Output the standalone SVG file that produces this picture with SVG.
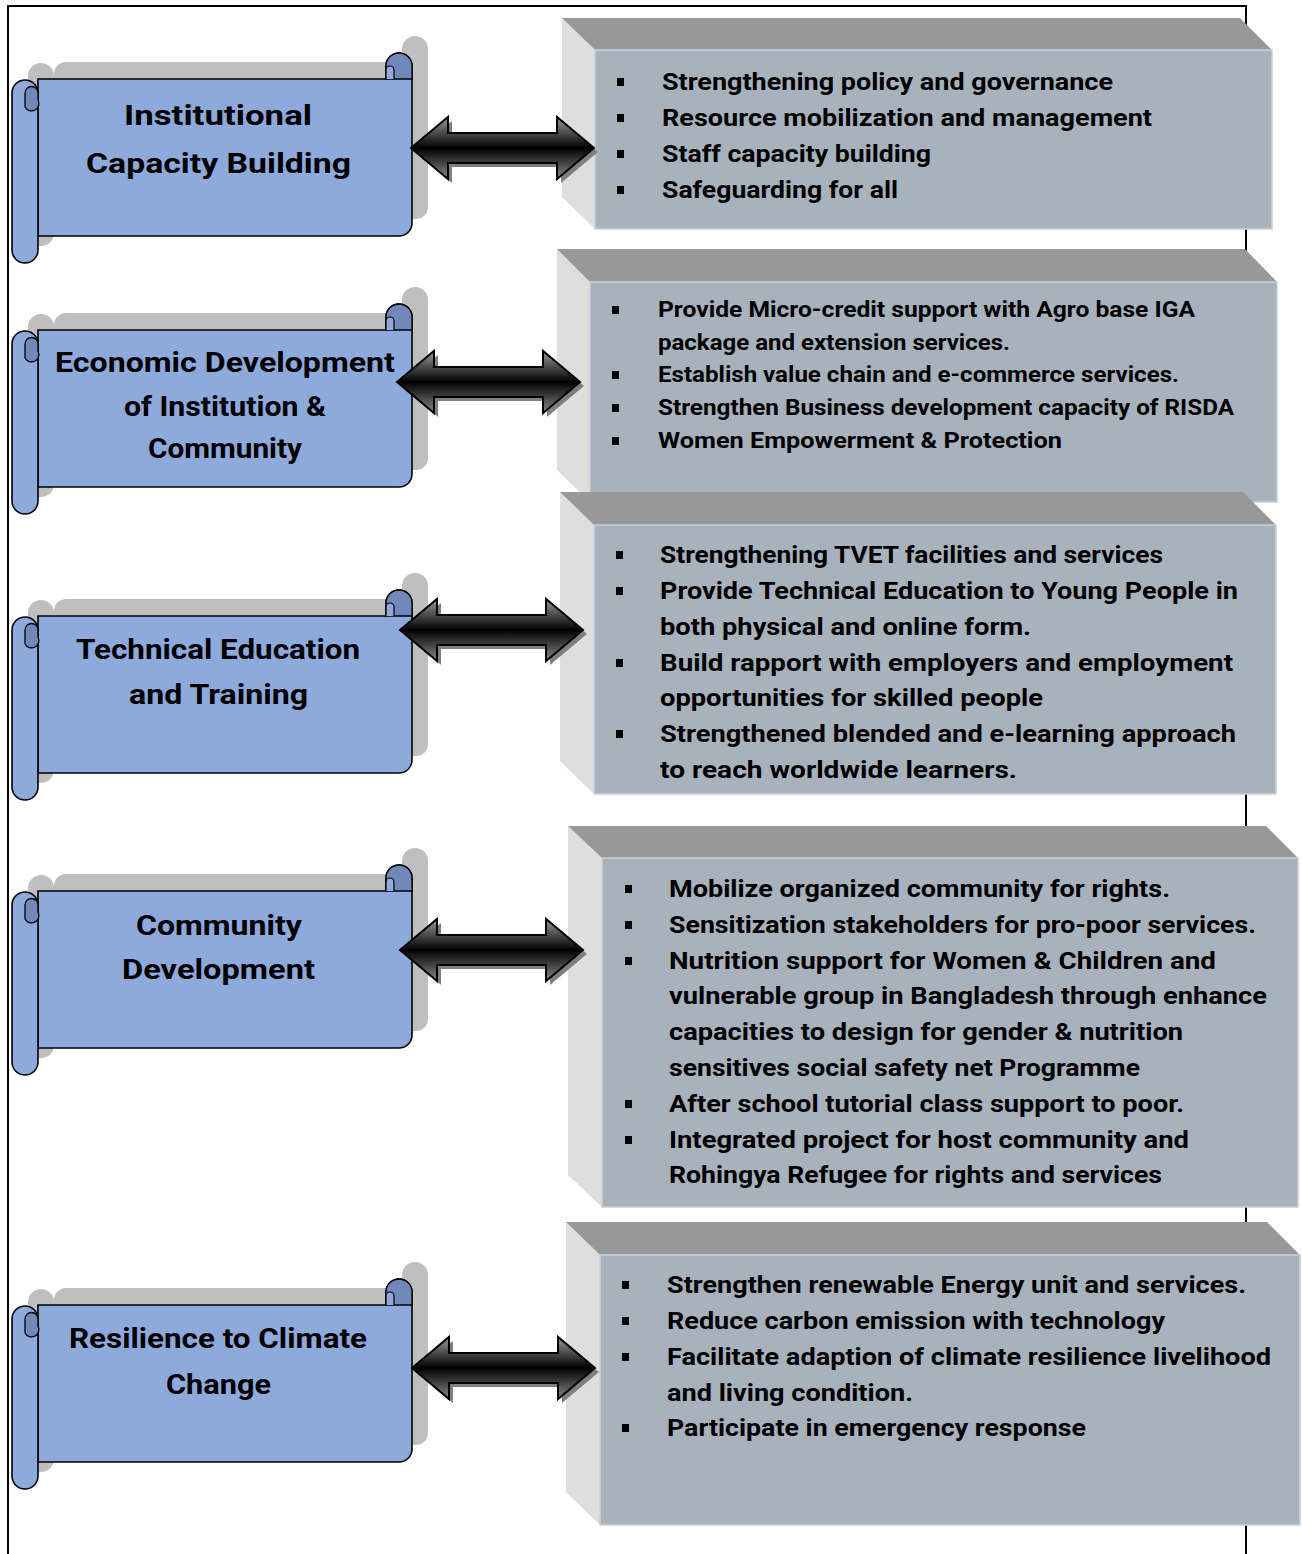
<svg xmlns="http://www.w3.org/2000/svg" xmlns:xlink="http://www.w3.org/1999/xlink" width="1302" height="1554" viewBox="0 0 1302 1554">
<style>
.t{font-family:Roboto,"Open Sans","Liberation Sans",sans-serif;font-weight:700;fill:#000}
.st{font-size:28px;text-anchor:middle}
.bt{font-size:24px}
.bt2{font-size:22px}
.scr{fill:#8EA9DB;stroke:#000;stroke-width:1.6}
.curl{fill:#7189BA;stroke:#000;stroke-width:1.3}
.shd{fill:#BFBFBF}
.front{fill:#A8B2BC;stroke:#C6D0DA;stroke-width:1.5}
.top{fill:#989898}
.side{fill:#DEDEDE}
.arr{fill:url(#ag);stroke:#000;stroke-width:2}
.arrs{fill:#7F7F7F}
.bul{fill:#000}
</style>
<defs>
<linearGradient id="ag" x1="0" y1="0" x2="0" y2="1">
<stop offset="0" stop-color="#9A9A9A"/>
<stop offset="0.5" stop-color="#000"/>
<stop offset="1" stop-color="#8A8A8A"/>
</linearGradient>
<g id="scroll">
<g class="shd" transform="translate(16,-17)">
<rect x="38" y="79" width="374" height="157" rx="12"/>
<rect x="12" y="80" width="26" height="183" rx="13"/>
<rect x="386" y="53" width="26" height="60" rx="13"/>
</g>
<path class="scr" d="M38,79 H386 V66 A13,13 0 0 1 412,66 V223 A13,13 0 0 1 399,236 H38 Z"/>
<path class="curl" d="M386,66 A13,13 0 0 1 412,66 V79 H386 Z"/>
<path fill="#8EA9DB" stroke="#000" stroke-width="1.2" d="M386,79 V70 A4,4 0 0 1 394,70 V79"/>
<rect x="12" y="80" width="26" height="183" rx="13" class="scr"/>
<path class="curl" d="M25,107 V93 A6.5,6.5 0 0 1 38,93 V100 A6.5,6.5 0 0 1 25,107 Z"/>
</g>
<path id="arrow" d="M0,0 L37,-31 L37,-15 L146,-15 L146,-31 L183,0 L146,31 L146,15 L37,15 L37,31 Z"/>
</defs>
<rect width="1302" height="1554" fill="#fff"/>
<g id="page-border" fill="none" stroke="#000" stroke-width="2">
<path d="M8,1554 V6 H1246 V1554"/>
</g>

<g id="node-institutional">
<use xlink:href="#scroll"/>
<text class="t st" x="218" y="125" textLength="188" lengthAdjust="spacingAndGlyphs">Institutional</text>
<text class="t st" x="218.5" y="173" textLength="265" lengthAdjust="spacingAndGlyphs">Capacity Building</text>
</g>
<g id="node-economic">
<use xlink:href="#scroll" transform="translate(0,251)"/>
<text class="t st" x="225" y="372" font-size="26.5" textLength="340" lengthAdjust="spacingAndGlyphs">Economic Development</text>
<text class="t st" x="225" y="416" font-size="26.5" textLength="202" lengthAdjust="spacingAndGlyphs">of Institution &amp;</text>
<text class="t st" x="225" y="458" font-size="26.5" textLength="154" lengthAdjust="spacingAndGlyphs">Community</text>
</g>
<g id="node-technical">
<use xlink:href="#scroll" transform="translate(0,537)"/>
<text class="t st" x="218" y="659" textLength="284" lengthAdjust="spacingAndGlyphs">Technical Education</text>
<text class="t st" x="218.5" y="704" textLength="179" lengthAdjust="spacingAndGlyphs">and Training</text>
</g>
<g id="node-community">
<use xlink:href="#scroll" transform="translate(0,812)"/>
<text class="t st" x="219" y="935" textLength="166" lengthAdjust="spacingAndGlyphs">Community</text>
<text class="t st" x="218.5" y="979" textLength="193" lengthAdjust="spacingAndGlyphs">Development</text>
</g>
<g id="node-climate">
<use xlink:href="#scroll" transform="translate(0,1226)"/>
<text class="t st" x="218" y="1348" textLength="298" lengthAdjust="spacingAndGlyphs">Resilience to Climate</text>
<text class="t st" x="218.5" y="1394" textLength="105" lengthAdjust="spacingAndGlyphs">Change</text>
</g>

<g id="box-institutional">
<polygon class="side" points="562,18 595,50 595,229 562,197"/>
<polygon class="top" points="562,18 1240,18 1272,50 595,50"/>
<rect class="front" x="595" y="50" width="677" height="179"/>
<rect class="bul" x="617" y="78" width="7" height="8"/>
<rect class="bul" x="617" y="114" width="7" height="8"/>
<rect class="bul" x="617" y="150" width="7" height="8"/>
<rect class="bul" x="617" y="186" width="7" height="8"/>
<text class="t bt" x="662" y="90" textLength="451" lengthAdjust="spacingAndGlyphs">Strengthening policy and governance</text>
<text class="t bt" x="662" y="126" textLength="490" lengthAdjust="spacingAndGlyphs">Resource mobilization and management</text>
<text class="t bt" x="662" y="162" textLength="269" lengthAdjust="spacingAndGlyphs">Staff capacity building</text>
<text class="t bt" x="662" y="198" textLength="236" lengthAdjust="spacingAndGlyphs">Safeguarding for all</text>
</g>
<g id="box-economic">
<polygon class="side" points="557,249 590,282 590,502 557,470"/>
<polygon class="top" points="557,249 1245,249 1277,282 590,282"/>
<rect class="front" x="590" y="282" width="687" height="220"/>
<rect class="bul" x="612" y="306" width="7" height="8"/>
<rect class="bul" x="612" y="371" width="7" height="8"/>
<rect class="bul" x="612" y="404" width="7" height="8"/>
<rect class="bul" x="612" y="437" width="7" height="8"/>
<text class="t bt2" x="658" y="317" textLength="537" lengthAdjust="spacingAndGlyphs">Provide Micro-credit support with Agro base IGA</text>
<text class="t bt2" x="658" y="350" textLength="352" lengthAdjust="spacingAndGlyphs">package and extension services.</text>
<text class="t bt2" x="658" y="382" textLength="521" lengthAdjust="spacingAndGlyphs">Establish value chain and e-commerce services.</text>
<text class="t bt2" x="658" y="415" textLength="576" lengthAdjust="spacingAndGlyphs">Strengthen Business development capacity of RISDA</text>
<text class="t bt2" x="658" y="448" textLength="404" lengthAdjust="spacingAndGlyphs">Women Empowerment &amp; Protection</text>
</g>
<g id="box-technical">
<polygon class="side" points="560,492 594,525 594,794 560,761"/>
<polygon class="top" points="560,492 1243,492 1276,525 594,525"/>
<rect class="front" x="594" y="525" width="682" height="269"/>
<rect class="bul" x="616" y="551" width="7" height="8"/>
<rect class="bul" x="616" y="587" width="7" height="8"/>
<rect class="bul" x="616" y="659" width="7" height="8"/>
<rect class="bul" x="616" y="730" width="7" height="8"/>
<text class="t bt" x="660" y="563" textLength="503" lengthAdjust="spacingAndGlyphs">Strengthening TVET facilities and services</text>
<text class="t bt" x="660" y="599" textLength="578" lengthAdjust="spacingAndGlyphs">Provide Technical Education to Young People in</text>
<text class="t bt" x="660" y="635" textLength="371" lengthAdjust="spacingAndGlyphs">both physical and online form.</text>
<text class="t bt" x="660" y="671" textLength="573" lengthAdjust="spacingAndGlyphs">Build rapport with employers and employment</text>
<text class="t bt" x="660" y="706" textLength="383" lengthAdjust="spacingAndGlyphs">opportunities for skilled people</text>
<text class="t bt" x="660" y="742" textLength="576" lengthAdjust="spacingAndGlyphs">Strengthened blended and e-learning approach</text>
<text class="t bt" x="660" y="778" textLength="357" lengthAdjust="spacingAndGlyphs">to reach worldwide  learners.</text>
</g>
<g id="box-community">
<polygon class="side" points="568,826 602,858 602,1207 568,1175"/>
<polygon class="top" points="568,826 1266,826 1298,858 602,858"/>
<rect class="front" x="602" y="858" width="696" height="349"/>
<rect class="bul" x="625" y="885" width="7" height="8"/>
<rect class="bul" x="625" y="921" width="7" height="8"/>
<rect class="bul" x="625" y="957" width="7" height="8"/>
<rect class="bul" x="625" y="1100" width="7" height="8"/>
<rect class="bul" x="625" y="1136" width="7" height="8"/>
<text class="t bt" x="669" y="897" textLength="501" lengthAdjust="spacingAndGlyphs">Mobilize organized community for rights.</text>
<text class="t bt" x="669" y="933" textLength="587" lengthAdjust="spacingAndGlyphs">Sensitization stakeholders for pro-poor services.</text>
<text class="t bt" x="669" y="969" textLength="547" lengthAdjust="spacingAndGlyphs">Nutrition support for Women &amp; Children and</text>
<text class="t bt" x="669" y="1004" textLength="598" lengthAdjust="spacingAndGlyphs">vulnerable group in Bangladesh through enhance</text>
<text class="t bt" x="669" y="1040" textLength="514" lengthAdjust="spacingAndGlyphs">capacities to design for gender &amp; nutrition</text>
<text class="t bt" x="669" y="1076" textLength="471" lengthAdjust="spacingAndGlyphs">sensitives social safety net Programme</text>
<text class="t bt" x="669" y="1112" textLength="515" lengthAdjust="spacingAndGlyphs">After school tutorial class support to poor.</text>
<text class="t bt" x="669" y="1148" textLength="520" lengthAdjust="spacingAndGlyphs">Integrated project for host community and</text>
<text class="t bt" x="669" y="1183" textLength="493" lengthAdjust="spacingAndGlyphs">Rohingya Refugee for rights and services</text>
</g>
<g id="box-climate">
<polygon class="side" points="566,1222 600,1255 600,1525 566,1492"/>
<polygon class="top" points="566,1222 1267,1222 1300,1255 600,1255"/>
<rect class="front" x="600" y="1255" width="700" height="270"/>
<rect class="bul" x="622" y="1281" width="7" height="8"/>
<rect class="bul" x="622" y="1317" width="7" height="8"/>
<rect class="bul" x="622" y="1353" width="7" height="8"/>
<rect class="bul" x="622" y="1424" width="7" height="8"/>
<text class="t bt" x="667" y="1293" textLength="579" lengthAdjust="spacingAndGlyphs">Strengthen renewable Energy unit and services.</text>
<text class="t bt" x="667" y="1329" textLength="498" lengthAdjust="spacingAndGlyphs">Reduce carbon emission with technology</text>
<text class="t bt" x="667" y="1365" textLength="604" lengthAdjust="spacingAndGlyphs">Facilitate adaption of climate resilience livelihood</text>
<text class="t bt" x="667" y="1401" textLength="246" lengthAdjust="spacingAndGlyphs">and living condition.</text>
<text class="t bt" x="667" y="1436" textLength="419" lengthAdjust="spacingAndGlyphs">Participate in emergency response</text>
</g>

<g id="connectors">
<use xlink:href="#arrow" class="arrs" transform="translate(415,152)"/>
<use xlink:href="#arrow" class="arr" transform="translate(411,148)"/>
<use xlink:href="#arrow" class="arrs" transform="translate(401,386)"/>
<use xlink:href="#arrow" class="arr" transform="translate(397,382)"/>
<use xlink:href="#arrow" class="arrs" transform="translate(404,634)"/>
<use xlink:href="#arrow" class="arr" transform="translate(400,630)"/>
<use xlink:href="#arrow" class="arrs" transform="translate(404,954)"/>
<use xlink:href="#arrow" class="arr" transform="translate(400,950)"/>
<use xlink:href="#arrow" class="arrs" transform="translate(416,1372)"/>
<use xlink:href="#arrow" class="arr" transform="translate(412,1368)"/>
</g>
</svg>
